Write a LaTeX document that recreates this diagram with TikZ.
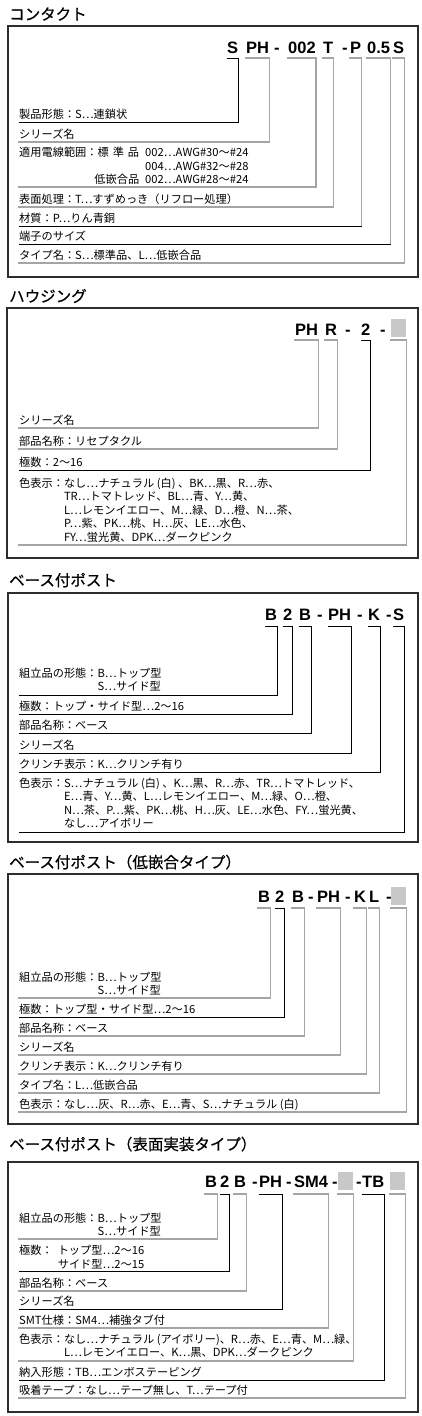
\documentclass[tikz,border=0pt]{standalone}
\usepackage{fontspec}
\setmainfont{Noto Sans CJK JP}
\newfontfamily\headfont{Noto Sans CJK JP}[FakeBold=0.6]
\newfontfamily\codefont{Liberation Sans}
\usetikzlibrary{positioning}
\definecolor{cEdge}{RGB}{45,45,45}
\definecolor{cRule}{RGB}{165,165,165}
\definecolor{cSlot}{RGB}{200,200,200}
\tikzset{
  frame/.style={draw=cEdge,line width=1.1pt},
  head/.style={anchor=base west,inner sep=0pt,font=\headfont\fontsize{15.5}{18}\selectfont},
  code/.style={anchor=base west,inner sep=0pt,font=\codefont\bfseries\fontsize{16.5}{18}\selectfont},
  slot/.style={fill=cSlot,anchor=north west,inner sep=0pt,minimum width=15pt,minimum height=18pt},
  lbl/.style={anchor=base west,inner sep=0pt,font=\fontsize{11.2}{13.5}\selectfont},
  dk/.style={draw=black,line width=0.8pt,line cap=rect},
  lt/.style={draw=cRule,line width=1.4pt,line cap=rect},
}

\begin{document}
\begin{tikzpicture}[x=1pt,y=-1pt]
  \useasboundingbox (0,0) rectangle (421,1416);

  % --- contact
  \node[head] (h1) at (9,20) {コンタクト};
  \draw[frame] (8,26) rectangle (418,277);
  \foreach \n/\x/\t in {1/227/S,2/246/PH,3/288/002,4/323/T,5/350/P,6/367/0.5,7/393/S}
    \node[code] (c1\n) at (\x,53) {\t};
  \foreach \n/\x in {1/274,2/342}
    \node[code] (d1\n) at (\x,53) {-};
  \coordinate (k1) at (0,58);
  \node[lbl] (t11) at (19,118.5) {製品形態：S…連鎖状};
  \node[lbl] (t12) at (19,138.5) {シリーズ名};
  \node[lbl] (t13) at (19,156.5) {\begin{tabular}[t]{@{}r@{\hspace{6pt}}l@{}}
      適用電線範囲：標\hspace{4pt}準\hspace{4pt}品 & 002…AWG\#30〜\#24\\
      & 004…AWG\#32〜\#28\\
      低嵌合品 & 002…AWG\#28〜\#24\end{tabular}};
  \node[lbl] (t14) at (19,203.5) {表面処理：T…すずめっき（リフロー処理）};
  \node[lbl] (t15) at (19,222.5) {材質：P…りん青銅};
  \node[lbl] (t16) at (19,240.5) {端子のサイズ};
  \node[lbl] (t17) at (19,259.5) {タイプ名：S…標準品、L…低嵌合品};
  \foreach \n/\y/\sa/\sb in {1/122/dk/dk,2/142/lt/lt,3/187/lt/lt,4/207/lt/lt,
      5/226/lt/dk,6/244/lt/dk,7/263/lt/lt} {
    \coordinate (l1\n) at (19,\y);
    \draw[\sa] (c1\n.west |- k1) -- (c1\n.east |- k1) -- (c1\n.east |- l1\n);
    \draw[\sb] (c1\n.east |- l1\n) -- (l1\n);
  }

  % --- housing
  \node[head] (h2) at (9,302) {ハウジング};
  \draw[frame] (7,308) rectangle (418,558);
  \foreach \n/\x/\t in {1/295/PH,2/325/R,3/361/2}
    \node[code] (c2\n) at (\x,335) {\t};
  \foreach \n/\x in {1/345,2/380}
    \node[code] (d2\n) at (\x,335) {-};
  \node[slot] (c24) at (391,319) {};
  \coordinate (k2) at (0,340);
  \node[lbl] (t21) at (19,424.5) {シリーズ名};
  \node[lbl] (t22) at (19,445.5) {部品名称：リセプタクル};
  \node[lbl] (t23) at (19,466.5) {極数：2〜16};
  \node[lbl] (t24) at (19,487) {\begin{tabular}[t]{@{}l@{}l@{}}
      色表示：& なし…ナチュラル (白) 、BK…黒、R…赤、\\
      & TR…トマトレッド、BL…青、Y…黄、\\
      & L…レモンイエロー、M…緑、D…橙、N…茶、\\
      & P…紫、PK…桃、H…灰、LE…水色、\\
      & FY…蛍光黄、DPK…ダークピンク\end{tabular}};
  \foreach \n/\y/\sa in {1/428/lt,2/449/lt,3/470/dk,4/545/lt} {
    \coordinate (l2\n) at (19,\y);
    \draw[\sa] (c2\n.west |- k2) -- (c2\n.east |- k2) -- (c2\n.east |- l2\n) -- (l2\n);
  }

  % --- base post
  \node[head] (h3) at (9,586) {ベース付ポスト};
  \draw[frame] (8,593) rectangle (418,842);
  \foreach \n/\x/\t in {1/265/B,2/283/2,3/299/B,4/328/PH,5/368/K,6/393/S}
    \node[code] (c3\n) at (\x,620) {\t};
  \foreach \n/\x in {1/317,2/357,3/386}
    \node[code] (d3\n) at (\x,620) {-};
  \coordinate (k3) at (0,626);
  \node[lbl] (t31) at (19,677) {\begin{tabular}[t]{@{}l@{}l@{}}
      組立品の形態：& B…トップ型\\ & S…サイド型\end{tabular}};
  \node[lbl] (t32) at (19,710.5) {極数：トップ・サイド型…2〜16};
  \node[lbl] (t33) at (19,729.5) {部品名称：ベース};
  \node[lbl] (t34) at (19,749.5) {シリーズ名};
  \node[lbl] (t35) at (19,768.5) {クリンチ表示：K…クリンチ有り};
  \node[lbl] (t36) at (19,787) {\begin{tabular}[t]{@{}l@{}l@{}}
      色表示：& S…ナチュラル (白) 、K…黒、R…赤、TR…トマトレッド、\\
      & E…青、Y…黄、L…レモンイエロー、M…緑、O…橙、\\
      & N…茶、P…紫、PK…桃、H…灰、LE…水色、FY…蛍光黄、\\
      & なし…アイボリー\end{tabular}};
  \foreach \n/\y in {1/695,2/714,3/733,4/753,5/772,6/832} {
    \coordinate (l3\n) at (19,\y);
    \draw[dk] (c3\n.west |- k3) -- (c3\n.east |- k3) -- (c3\n.east |- l3\n) -- (l3\n);
  }

  % --- base post, low insertion
  \node[head] (h4) at (9,868) {ベース付ポスト（低嵌合タイプ）};
  \draw[frame] (8,874) rectangle (418,1124);
  \foreach \n/\x/\t in {1/258/B,2/275/2,3/292/B,4/317/PH,5/354/K,6/369/L}
    \node[code] (c4\n) at (\x,902) {\t};
  \foreach \n/\x in {1/308,2/345,3/386}
    \node[code] (d4\n) at (\x,902) {-};
  \node[slot] (c47) at (391,887) {};
  \coordinate (k4) at (0,908);
  \node[lbl] (t41) at (19,981) {\begin{tabular}[t]{@{}l@{}l@{}}
      組立品の形態：& B…トップ型\\ & S…サイド型\end{tabular}};
  \node[lbl] (t42) at (19,1013.5) {極数：トップ型・サイド型…2〜16};
  \node[lbl] (t43) at (19,1032.5) {部品名称：ベース};
  \node[lbl] (t44) at (19,1051.5) {シリーズ名};
  \node[lbl] (t45) at (19,1070.5) {クリンチ表示：K…クリンチ有り};
  \node[lbl] (t46) at (19,1089.5) {タイプ名：L…低嵌合品};
  \node[lbl] (t47) at (19,1108.5) {色表示：なし…灰、R…赤、E…青、S…ナチュラル (白)};
  \foreach \n/\y/\sa in {1/998/lt,2/1017/dk,3/1036/lt,4/1055/lt,5/1074/lt,6/1093/lt,7/1112/lt} {
    \coordinate (l4\n) at (19,\y);
    \draw[\sa] (c4\n.west |- k4) -- (c4\n.east |- k4) -- (c4\n.east |- l4\n) -- (l4\n);
  }

  % --- base post, SMT
  \node[head] (h5) at (9,1150) {ベース付ポスト（表面実装タイプ）};
  \draw[frame] (8,1162) rectangle (418,1412);
  \foreach \n/\x/\t in {1/205/B,2/220/2,3/234/B,4/259/PH,5/294/SM4,7/362/TB}
    \node[code] (c5\n) at (\x,1187) {\t};
  \foreach \n/\x in {1/252,2/286,3/332,4/356}
    \node[code] (d5\n) at (\x,1187) {-};
  \node[slot] (c56) at (338,1172) {};
  \node[slot] (c58) at (390,1172) {};
  \coordinate (k5) at (0,1194);
  \node[lbl] (t51) at (19,1222) {\begin{tabular}[t]{@{}l@{}l@{}}
      組立品の形態：& B…トップ型\\ & S…サイド型\end{tabular}};
  \node[lbl] (t52) at (19,1254.5) {\begin{tabular}[t]{@{}l@{\hspace{5pt}}l@{}}
      極数：& トップ型…2〜16\\ & サイド型…2〜15\end{tabular}};
  \node[lbl] (t53) at (19,1287.5) {部品名称：ベース};
  \node[lbl] (t54) at (19,1305.5) {シリーズ名};
  \node[lbl] (t55) at (19,1324.5) {SMT仕様：SM4…補強タブ付};
  \node[lbl] (t56) at (19,1343) {\begin{tabular}[t]{@{}l@{}l@{}}
      色表示：& なし…ナチュラル (アイボリー)、R…赤、E…青、M…緑、\\
      & L…レモンイエロー、K…黒、DPK…ダークピンク\end{tabular}};
  \node[lbl] (t57) at (19,1376.5) {納入形態：TB…エンボステーピング};
  \node[lbl] (t58) at (19,1394.5) {吸着テープ：なし…テープ無し、T…テープ付};
  \foreach \n/\y/\sa in {1/1239/lt,2/1271/dk,3/1291/lt,4/1309/dk,5/1328/lt,6/1361/lt,7/1380/dk,8/1398/lt} {
    \coordinate (l5\n) at (19,\y);
    \draw[\sa] (c5\n.west |- k5) -- (c5\n.east |- k5) -- (c5\n.east |- l5\n) -- (l5\n);
  }
\end{tikzpicture}
\end{document}
